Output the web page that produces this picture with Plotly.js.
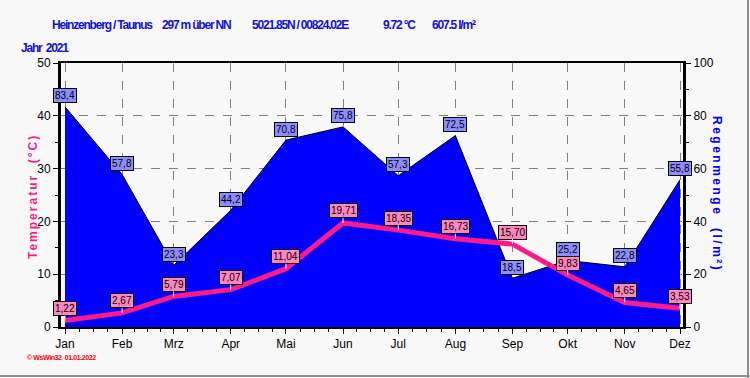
<!DOCTYPE html>
<html>
<head>
<meta charset="utf-8">
<script src="https://cdn.plot.ly/plotly-3.0.1.min.js"></script>
<style>
html,body{margin:0;padding:0;background:#f8f8f8;}
#chart{width:750px;height:378px;}
</style>
</head>
<body>
<div id="chart"></div>
<script>
// ---- data ----
const monthDates = ['2021-01-01','2021-02-01','2021-03-01','2021-04-01','2021-05-01','2021-06-01',
                    '2021-07-01','2021-08-01','2021-09-01','2021-10-01','2021-11-01','2021-12-01'];
const monthLabels = ['Jan','Feb','Mrz','Apr','Mai','Jun','Jul','Aug','Sep','Okt','Nov','Dez'];
const temperature = [1.22, 2.67, 5.79, 7.07, 11.04, 19.71, 18.35, 16.73, 15.70, 9.83, 4.65, 3.53];
const rainfall = [83.4, 57.8, 23.3, 44.2, 70.8, 75.8, 57.3, 72.5, 18.5, 25.2, 22.8, 55.8];

const titleParts = ['Heinzenberg / Taunus', '297 m über NN', '5021.85N / 00824.02E', '9.72 °C', '607.5 l/m²'];
const yearLabel = 'Jahr  2021';
const footer = '© WsWin32  01.01.2022';

// ---- layout helpers (pixel -> paper) ----
const L = 61, R = 683, T = 63, B = 327;
const px = x => (x - L) / (R - L);
const py = y => (B - y) / (B - T);

const BLUE = '#0000ff';
const PINK = '#ff1a8a';
const TITLEBLUE = '#1010e0';

// minor tick positions: quarter steps between month starts
const minorVals = [];
for (let i = 0; i < monthDates.length - 1; i++) {
  const a = new Date(monthDates[i] + 'T00:00:00Z').getTime();
  const b = new Date(monthDates[i + 1] + 'T00:00:00Z').getTime();
  for (let k = 1; k < 4; k++) {
    minorVals.push(new Date(a + (b - a) * k / 4).toISOString().slice(0, 19).replace('T', ' '));
  }
}

const rainTrace = {
  x: monthDates, y: rainfall, yaxis: 'y', type: 'scatter', mode: 'lines',
  fill: 'tozeroy', fillcolor: BLUE, line: {color: '#000000', width: 1},
  hoverinfo: 'skip', showlegend: false
};
const tempTrace = {
  x: monthDates, y: temperature, yaxis: 'y2', type: 'scatter', mode: 'lines',
  line: {color: PINK, width: 5}, hoverinfo: 'skip', showlegend: false
};

const annotations = [];
const fmt = (v, d) => v.toFixed(d).replace('.', ',');
rainfall.forEach((v, i) => {
  annotations.push({
    x: monthDates[i], y: v, xref: 'x', yref: 'y', text: fmt(v, 1), showarrow: false,
    yshift: 11, font: {family: 'Liberation Sans, Arial, sans-serif', size: 10, color: '#000'},
    bgcolor: '#8c8cff', bordercolor: '#000', borderwidth: 1, borderpad: 1
  });
});
temperature.forEach((v, i) => {
  annotations.push({
    x: monthDates[i], y: v, xref: 'x', yref: 'y2', text: fmt(v, 2), showarrow: true,
    ax: 0, ay: -12, arrowhead: 0, arrowwidth: 1, arrowcolor: '#ffffff',
    font: {family: 'Liberation Sans, Arial, sans-serif', size: 10, color: '#000'},
    bgcolor: '#ff85c0', bordercolor: '#000', borderwidth: 1, borderpad: 1
  });
});

const titleX = [50, 160, 250, 381, 430];
titleParts.forEach((t, i) => {
  annotations.push({
    x: px(titleX[i]), y: py(25), xref: 'paper', yref: 'paper', xanchor: 'left', yanchor: 'middle',
    text: '<b><span style="letter-spacing:-1.2px">' + t + '</span></b>', showarrow: false,
    font: {family: 'Liberation Sans, Arial, sans-serif', size: 12, color: TITLEBLUE}
  });
});
annotations.push({
  x: px(19), y: py(48), xref: 'paper', yref: 'paper', xanchor: 'left', yanchor: 'middle',
  text: '<b><span style="letter-spacing:-1.2px">' + yearLabel + '</span></b>', showarrow: false,
  font: {family: 'Liberation Sans, Arial, sans-serif', size: 12, color: TITLEBLUE}
});
annotations.push({
  x: px(33), y: py(197), xref: 'paper', yref: 'paper', xanchor: 'center', yanchor: 'middle',
  textangle: -90, showarrow: false,
  text: '<b><span style="letter-spacing:2px">Temperatur  (°C)</span></b>',
  font: {family: 'Liberation Sans, Arial, sans-serif', size: 12, color: PINK}
});
annotations.push({
  x: px(717), y: py(194), xref: 'paper', yref: 'paper', xanchor: 'center', yanchor: 'middle',
  textangle: 90, showarrow: false,
  text: '<b><span style="letter-spacing:2.5px">Regenmenge  (l/m²)</span></b>',
  font: {family: 'Liberation Sans, Arial, sans-serif', size: 12, color: BLUE}
});
annotations.push({
  x: px(25), y: py(357), xref: 'paper', yref: 'paper', xanchor: 'left', yanchor: 'middle',
  text: '<b><span style="letter-spacing:-0.4px">' + footer + '</span></b>', showarrow: false,
  font: {family: 'Liberation Sans, Arial, sans-serif', size: 7, color: '#ff0000'}
});

const layout = {
  width: 750, height: 378,
  margin: {l: L, r: 750 - R, t: T, b: 378 - B, pad: 0},
  paper_bgcolor: '#f8f8f8', plot_bgcolor: '#f8f8f8',
  showlegend: false,
  font: {family: 'Liberation Sans, Arial, sans-serif', size: 12, color: '#000'},
  xaxis: {
    type: 'date', range: ['2020-12-29 19:50', '2021-12-02 15:00'],
    tickmode: 'array', tickvals: monthDates, ticktext: monthLabels,
    ticks: 'outside', ticklen: 5, tickwidth: 1, tickcolor: '#000',
    showgrid: true, gridcolor: '#808080', griddash: 'dash', gridwidth: 1,
    showline: true, linecolor: '#000', linewidth: 2, mirror: true, zeroline: false,
    minor: {tickmode: 'array', tickvals: minorVals, ticks: 'outside', ticklen: 3, tickcolor: '#000', showgrid: false},
    tickfont: {size: 12, color: '#000'}, fixedrange: true
  },
  yaxis: {
    range: [0, 100], side: 'right', tickmode: 'linear', tick0: 0, dtick: 20,
    ticks: 'outside', ticklen: 5, tickwidth: 1, tickcolor: '#000',
    showgrid: true, gridcolor: '#808080', griddash: 'dash', gridwidth: 1,
    showline: true, linecolor: '#000', linewidth: 3, zeroline: false,
    minor: {dtick: 10, ticks: 'outside', ticklen: 3, tickcolor: '#000', showgrid: false},
    tickfont: {size: 12, color: '#000'}, fixedrange: true
  },
  yaxis2: {
    range: [0, 50], side: 'left', overlaying: 'y', tickmode: 'linear', tick0: 0, dtick: 10,
    ticks: 'outside', ticklen: 5, tickwidth: 1, tickcolor: '#000',
    showgrid: false, showline: true, linecolor: '#000', linewidth: 3, zeroline: false,
    minor: {dtick: 5, ticks: 'outside', ticklen: 3, tickcolor: '#000', showgrid: false},
    tickfont: {size: 12, color: '#000'}, fixedrange: true
  },
  annotations: annotations,
  shapes: [
    {type: 'line', xref: 'paper', yref: 'paper', x0: px(0), x1: px(750), y0: py(376), y1: py(376),
     line: {color: '#909090', width: 2}},
    {type: 'line', xref: 'paper', yref: 'paper', x0: px(748), x1: px(748), y0: py(0), y1: py(378),
     line: {color: '#909090', width: 2}}
  ]
};

Plotly.newPlot('chart', [rainTrace, tempTrace], layout, {displayModeBar: false, staticPlot: true});
</script>
</body>
</html>
